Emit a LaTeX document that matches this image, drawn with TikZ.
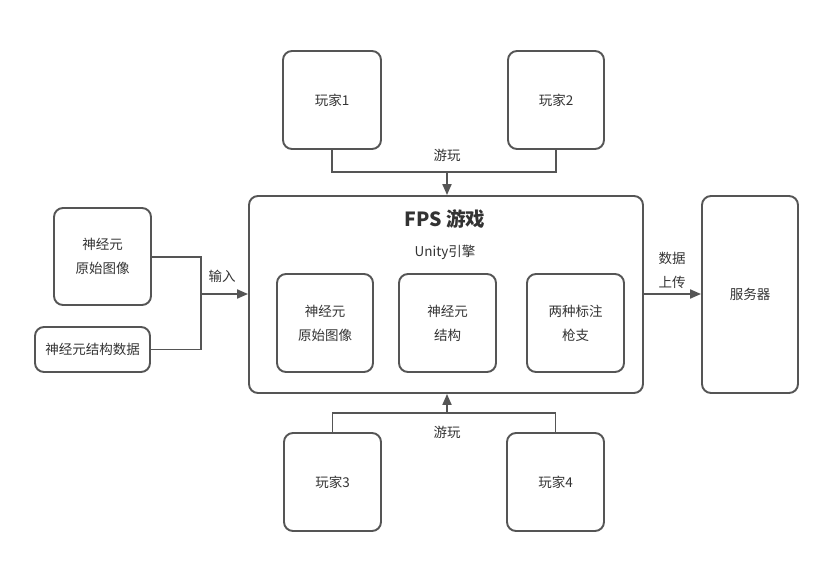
\documentclass[tikz,border=0pt]{standalone}
\usepackage{fontspec}
\setmainfont{Noto Sans CJK SC}
\usetikzlibrary{arrows.meta}
\definecolor{linec}{HTML}{555555}
\definecolor{textc}{HTML}{333333}
\tikzset{
  boxn/.style={draw=linec, line width=1.9pt, rounded corners=9pt, inner sep=0pt, text=textc, font=\fontsize{13.5}{24}\selectfont, align=center},
  conn/.style={draw=linec, line width=1.9pt},
  arr/.style={conn, -{Triangle[length=11pt,width=9pt]}},
  lbl/.style={text=textc, font=\fontsize{13.5}{24}\selectfont, align=center, inner sep=0pt},
}
\newcommand{\bx}[6]{\node[boxn, minimum width=#4-#2, minimum height=#5-#3] (#1) at ({(#2+#4)/2},{(#3+#5)/2}) {#6};}
\begin{document}
\begin{tikzpicture}[x=1pt,y=-1pt]
\useasboundingbox (0,0) rectangle (831,573);
% players
\bx{p1}{283}{51}{381}{149}{玩家1}
\bx{p2}{508}{51}{604}{149}{玩家2}
\bx{p3}{284}{433}{381}{531}{玩家3}
\bx{p4}{507}{433}{604}{531}{玩家4}
% main
\bx{fps}{249}{196}{643}{393}{}
\node[lbl, font=\bfseries\fontsize{19.5}{22}\selectfont] (title) at (445,219) {FPS 游戏};
\node[lbl] (unity) at (445,252) {Unity引擎};
\bx{ia}{277}{274}{373}{372}{神经元\\原始图像}
\bx{ib}{399}{274}{496}{372}{神经元\\结构}
\bx{ic}{527}{274}{624}{372}{两种标注\\枪支}
% left
\bx{la}{54}{208}{151}{305}{神经元\\原始图像}
\bx{lb}{35}{327}{150}{372}{神经元结构数据}
% server
\bx{srv}{702}{196}{798}{393}{服务器}
% junction coordinates
\coordinate (jt) at (447,172);
\coordinate (jb) at (447,413);
\coordinate (jl) at (201,294);
% top connectors
\draw[conn] (p1.south) |- (jt);
\draw[conn] (p2.south) |- (jt);
\draw[arr] (jt) -- (jt |- fps.north);
\node[lbl] (l1) at (447,155) {游玩};
% bottom connectors
\draw[conn] (p3.north) |- (jb);
\draw[conn] (p4.north) |- (jb);
\draw[arr] (jb) -- (jb |- fps.south);
\node[lbl] (l2) at (447,432) {游玩};
% left connectors
\draw[conn] (la.east |- 0,257) -| (jl);
\draw[conn] (lb.east) -| (jl);
\draw[arr] (jl) -- (jl -| fps.west);
\node[lbl] (l3) at (222,276) {输入};
% right connector
\draw[arr] (fps.east |- 0,294) -- (srv.west |- 0,294);
\node[lbl] (l4) at (672,270) {数据\\上传};
\end{tikzpicture}
\end{document}
